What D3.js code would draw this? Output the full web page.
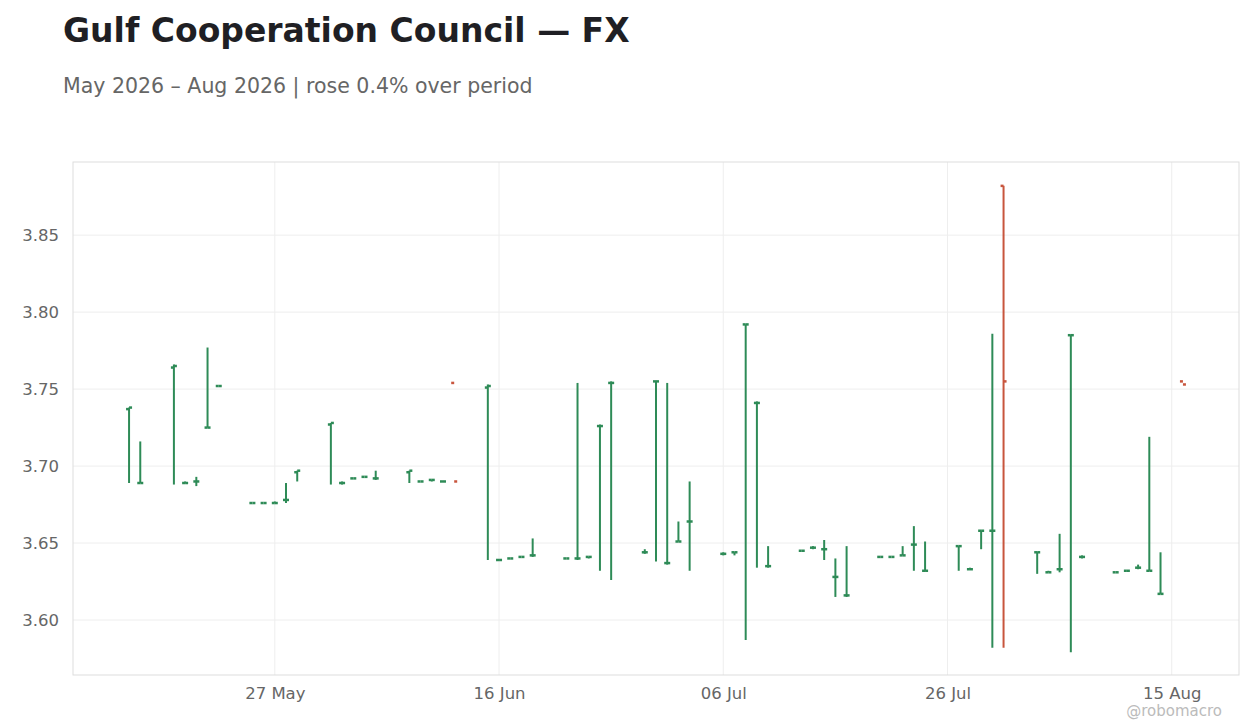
<!DOCTYPE html>
<html><head><meta charset="utf-8">
<script src="https://cdn.jsdelivr.net/npm/d3@7"></script>
<style>body{margin:0;background:#fff;font-family:"DejaVu Sans",sans-serif}</style>
</head><body><svg id="c" width="1260" height="728"></svg>
<script>
const dates=["2026-05-14","2026-05-15","2026-05-18","2026-05-19","2026-05-20","2026-05-21","2026-05-22","2026-05-25","2026-05-26","2026-05-27","2026-05-28","2026-05-29","2026-06-01","2026-06-02","2026-06-03","2026-06-04","2026-06-05","2026-06-08","2026-06-09","2026-06-10","2026-06-11","2026-06-12","2026-06-15","2026-06-16","2026-06-17","2026-06-18","2026-06-19","2026-06-22","2026-06-23","2026-06-24","2026-06-25","2026-06-26","2026-06-29","2026-06-30","2026-07-01","2026-07-02","2026-07-03","2026-07-06","2026-07-07","2026-07-08","2026-07-09","2026-07-10","2026-07-13","2026-07-14","2026-07-15","2026-07-16","2026-07-17","2026-07-20","2026-07-21","2026-07-22","2026-07-23","2026-07-24","2026-07-27","2026-07-28","2026-07-29","2026-07-30","2026-07-31","2026-08-03","2026-08-04","2026-08-05","2026-08-06","2026-08-07","2026-08-10","2026-08-11","2026-08-12","2026-08-13","2026-08-14","2026-08-16"];
const opens=[3.737,3.689,3.764,3.689,3.690,3.725,3.752,3.676,3.676,3.676,3.678,3.696,3.727,3.689,3.692,3.693,3.692,3.696,3.690,3.691,3.690,3.754,3.751,3.639,3.640,3.641,3.642,3.640,3.640,3.641,3.726,3.754,3.644,3.755,3.637,3.651,3.664,3.643,3.644,3.792,3.741,3.635,3.645,3.647,3.646,3.628,3.616,3.641,3.641,3.642,3.649,3.632,3.648,3.633,3.658,3.658,3.882,3.644,3.631,3.633,3.785,3.641,3.631,3.632,3.634,3.632,3.617,3.755];
const highs=[3.738,3.716,3.766,3.690,3.693,3.777,3.752,3.676,3.676,3.677,3.689,3.697,3.728,3.690,3.692,3.693,3.697,3.697,3.690,3.691,3.690,null,3.753,3.639,3.640,3.641,3.653,3.640,3.754,3.641,3.727,3.755,3.646,3.755,3.754,3.664,3.690,3.644,3.644,3.792,3.742,3.648,3.645,3.648,3.652,3.640,3.648,3.641,3.641,3.648,3.661,3.651,3.648,3.634,3.658,3.786,3.882,3.644,3.632,3.656,3.785,3.642,3.631,3.632,3.636,3.719,3.644,null];
const lows=[3.689,3.689,3.688,3.689,3.687,3.725,3.752,3.676,3.676,3.676,3.676,3.690,3.688,3.688,3.692,3.693,3.691,3.689,3.690,3.690,3.690,null,3.639,3.639,3.640,3.641,3.641,3.640,3.639,3.640,3.632,3.626,3.643,3.638,3.636,3.651,3.632,3.642,3.642,3.587,3.634,3.634,3.645,3.646,3.639,3.615,3.615,3.641,3.641,3.642,3.632,3.632,3.632,3.633,3.646,3.582,3.582,3.630,3.631,3.631,3.579,3.640,3.631,3.632,3.633,3.632,3.617,null];
const closes=[3.738,3.689,3.765,3.689,3.690,3.725,3.752,3.676,3.676,3.676,3.678,3.697,3.728,3.689,3.692,3.693,3.692,3.697,3.690,3.691,3.690,3.690,3.752,3.639,3.640,3.641,3.642,3.640,3.640,3.641,3.726,3.754,3.644,3.755,3.637,3.651,3.664,3.643,3.644,3.792,3.741,3.635,3.645,3.647,3.646,3.628,3.616,3.641,3.641,3.642,3.649,3.632,3.648,3.633,3.658,3.658,3.755,3.644,3.631,3.633,3.785,3.641,3.631,3.632,3.634,3.632,3.617,3.753];
const yTicks=[3.60,3.65,3.70,3.75,3.80,3.85];
const xTicks=["2026-05-27","2026-06-16","2026-07-06","2026-07-26","2026-08-15"];

const svg=d3.select("#c");
const L=73,R=1239,T=162,B=675;
const p=d3.timeParse("%Y-%m-%d");
const x=d3.scaleTime().domain([p("2026-05-09"),p("2026-08-21")]).range([L,R]);
const y=d3.scaleLinear().domain([3.5643,3.8975]).range([B,T]);
svg.append("text").attr("x",63).attr("y",42).attr("font-size",33).attr("font-weight","bold").attr("fill","#1f1f24").text("Gulf Cooperation Council — FX");
svg.append("text").attr("x",63).attr("y",93).attr("font-size",20.5).attr("fill","#666").text("May 2026 – Aug 2026 | rose 0.4% over period");
const g=svg.append("g");
g.selectAll(".gy").data(yTicks).join("line").attr("x1",L).attr("x2",R).attr("y1",d=>y(d)).attr("y2",d=>y(d)).attr("stroke","#eee");
g.selectAll(".gx").data(xTicks).join("line").attr("y1",T).attr("y2",B).attr("x1",d=>x(p(d))).attr("x2",d=>x(p(d))).attr("stroke","#eee");
g.append("rect").attr("x",L).attr("y",T).attr("width",R-L).attr("height",B-T).attr("fill","none").attr("stroke","#ddd");
const ya=svg.append("g").attr("transform",`translate(${L},0)`).call(d3.axisLeft(y).tickValues(yTicks).tickFormat(d3.format(".2f")).tickSize(0).tickPadding(14));
const xa=svg.append("g").attr("transform",`translate(0,${B})`).call(d3.axisBottom(x).tickValues(xTicks.map(p)).tickFormat(d3.timeFormat("%d %b")).tickSize(0).tickPadding(12));
[ya,xa].forEach(a=>{a.select(".domain").remove();a.selectAll("text").attr("font-size",16.5).attr("fill","#666").attr("font-family","DejaVu Sans");});
const data=dates.map((d,i)=>({d:p(d),o:opens[i],h:highs[i],l:lows[i],c:closes[i]}));
const col=d=>d.c>=d.o?"#2e8b57":"#c8553d";
const bars=g.selectAll(".b").data(data).join("g");
bars.filter(d=>d.h!=null).append("line").attr("x1",d=>x(d.d)).attr("x2",d=>x(d.d)).attr("y1",d=>y(d.h)).attr("y2",d=>y(d.l)).attr("stroke",col).attr("stroke-width",2);
bars.append("line").attr("x1",d=>x(d.d)-3).attr("x2",d=>x(d.d)).attr("y1",d=>y(d.o)).attr("y2",d=>y(d.o)).attr("stroke",col).attr("stroke-width",2.5);
bars.append("line").attr("x1",d=>x(d.d)).attr("x2",d=>x(d.d)+3).attr("y1",d=>y(d.c)).attr("y2",d=>y(d.c)).attr("stroke",col).attr("stroke-width",2.5);
svg.append("text").attr("x",1222).attr("y",716).attr("text-anchor","end").attr("font-size",15).attr("fill","#bbb").text("@robomacro");
</script></body></html>
